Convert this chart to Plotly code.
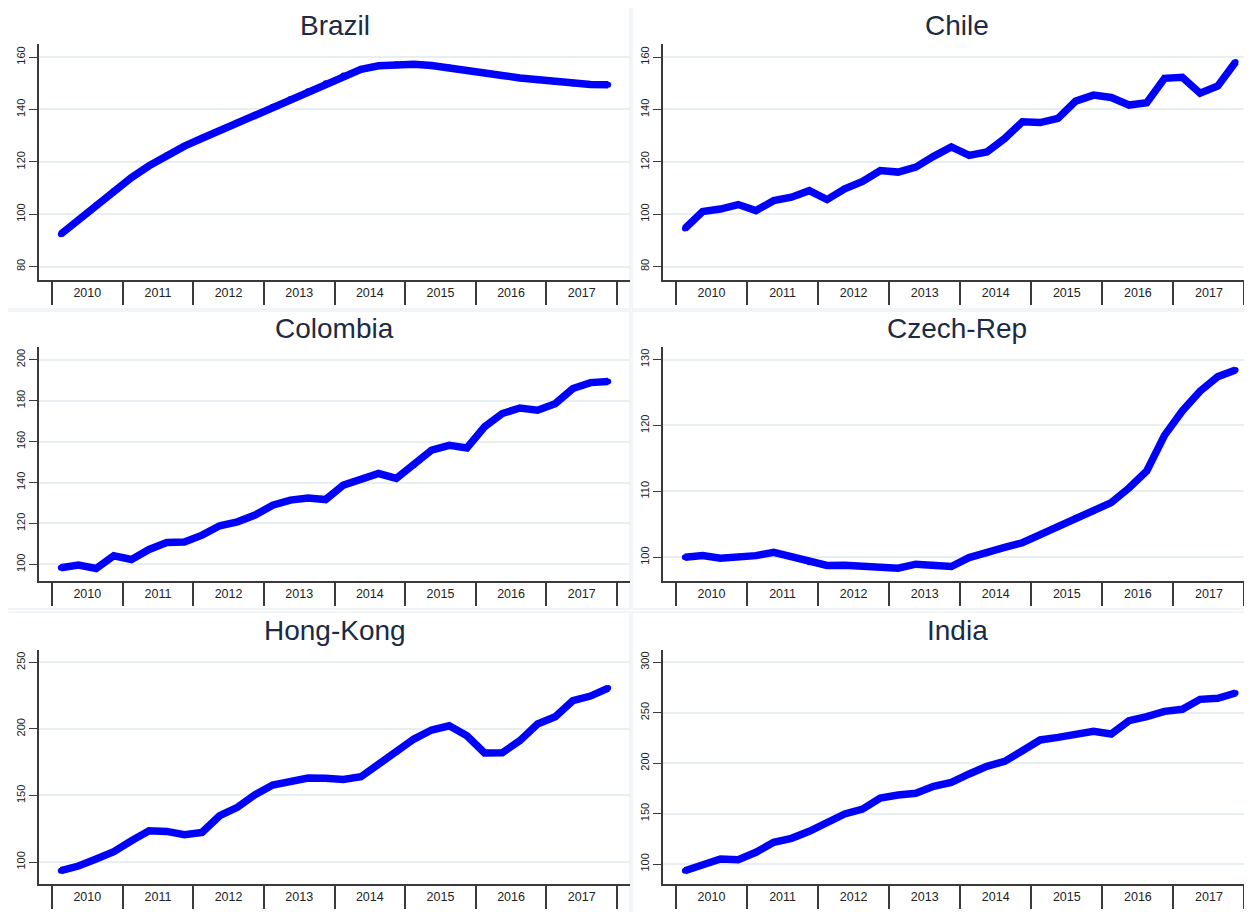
import plotly.graph_objects as go

# ---------------- data ----------------
years = list(range(2010, 2018))
quarters = [1, 2, 3, 4]
year_labels = [str(y) for y in years]

countries = ["Brazil", "Chile", "Colombia", "Czech-Rep", "Hong-Kong", "India"]

brazil = [92.4, 98.0, 103.5, 109.0, 114.0, 118.5, 122.5, 126.0,
          129.0, 132.0, 135.0, 138.0, 141.0, 144.0, 147.0, 150.0,
          153.0, 155.3, 156.7, 157.3, 157.3, 156.8, 156.0, 155.0,
          154.0, 153.0, 152.0, 151.2, 150.5, 149.9, 149.5, 149.4]
chile = [94.6, 101.0, 102.0, 103.7, 101.4, 105.2, 106.5, 109.0,
         105.6, 109.7, 112.5, 116.7, 116.1, 118.0, 122.1, 125.7,
         122.5, 123.8, 128.9, 135.3, 135.0, 136.6, 143.2, 145.5,
         144.6, 141.7, 142.6, 151.9, 152.3, 146.2, 149.0, 158.1]
colombia = [98.4, 99.7, 98.0, 104.2, 102.4, 107.3, 110.7, 110.9,
            114.3, 118.9, 120.8, 124.1, 128.9, 131.4, 132.4, 131.7,
            138.7, 141.5, 144.4, 142.0, 148.5, 155.8, 158.2, 156.9,
            167.2, 173.7, 176.4, 175.3, 178.5, 185.9, 188.8, 189.3]
czech = [100.0, 100.25, 99.85, 100.0, 100.25, 100.75, 100.1, 99.25,
         98.75, 98.8, 98.6, 98.5, 98.35, 98.95, 98.85, 98.6,
         99.95, 100.6, 101.5, 102.2, 103.4, 104.6, 106.0, 107.0,
         108.3, 110.5, 113.1, 118.5, 122.2, 125.2, 127.4, 128.4]
hongkong = [93.5, 97.0, 102.3, 107.8, 116.0, 123.5, 123.0, 120.5,
            122.3, 134.8, 141.1, 150.6, 157.9, 160.4, 163.1, 162.9,
            162.1, 164.1, 173.6, 182.4, 192.4, 199.2, 202.4, 194.9,
            181.9, 182.1, 191.2, 203.7, 209.2, 221.2, 224.7, 230.7]
india = [93.4, 99.0, 105.0, 104.3, 111.6, 121.5, 125.5, 132.4,
         141.3, 149.6, 154.5, 165.5, 168.4, 170.1, 177.0, 181.0,
         189.3, 196.9, 201.8, 211.7, 223.0, 225.6, 228.3, 231.6,
         228.9, 242.1, 246.1, 251.4, 253.4, 263.3, 264.3, 269.6]
series = [brazil, chile, colombia, czech, hongkong, india]

# y tick values per panel
yticks = [
    [80, 100, 120, 140, 160],
    [80, 100, 120, 140, 160],
    [100, 120, 140, 160, 180, 200],
    [100, 110, 120, 130],
    [100, 150, 200, 250],
    [100, 150, 200, 250, 300],
]
yranges = [
    [74.9, 165.0],
    [74.9, 165.0],
    [91.9, 206.2],
    [96.4, 131.9],
    [83.5, 259.3],
    [80.2, 312.2],
]

# quarter positions on a continuous year scale (centre of each quarter)
xq = [y + (q - 0.5) / 4 for y in years for q in quarters]
year_mid = [y + 0.5 for y in years]
year_edges = years + [years[-1] + 1]

# ---------------- layout geometry ----------------
# the page body has an 8px margin, so the figure is placed at (8, 8)
W, H = 1244, 904
col_px = [(31, 622), (655, 1244)]
row_px = [(36, 272), (339, 573), (642, 876)]
title_y_px = [17, 320, 622]
xranges = [[2009.816, 2018.184], [2009.817, 2018.106]]
panel_x = [(-1, 622), (624, 1260)]
panel_y = [(-1, 301), (303, 601), (604, 920)]

FONT = "Liberation Sans, Arial, Helvetica, sans-serif"
AXIS_COL = "#3a3a3a"
GRID_COL = "#e7eff2"
LINE_COL = "#0000ff"

fig = go.Figure()
layout = dict(
    width=W, height=H,
    margin=dict(l=0, r=0, t=0, b=0),
    paper_bgcolor="white", plot_bgcolor="white",
    showlegend=False,
    font=dict(family=FONT, color="#222222"),
    annotations=[], shapes=[],
)

for i, (name, vals) in enumerate(zip(countries, series)):
    r, c = divmod(i, 2)
    ax = "" if i == 0 else str(i + 1)
    x0, x1 = col_px[c]
    y0, y1 = row_px[r]
    fig.add_trace(go.Scatter(
        x=xq, y=vals, mode="lines+markers",
        line=dict(color=LINE_COL, width=7.5),
        marker=dict(color=LINE_COL, size=6, line=dict(width=0)),
        xaxis="x" + ax, yaxis="y" + ax, name=name,
        hoverinfo="x+y",
    ))
    layout["xaxis" + ax] = dict(
        domain=[x0 / W, x1 / W],
        range=xranges[c],
        anchor="y" + ax,
        tickmode="array", tickvals=year_mid, ticktext=year_labels,
        ticks="", showgrid=False, zeroline=False,
        showline=True, linecolor=AXIS_COL, linewidth=1.6,
        tickfont=dict(size=12.5, color="#222222", family=FONT),
        ticklabelstandoff=0,
        minor=dict(tickmode="array", tickvals=year_edges, ticks="outside",
                   ticklen=23, tickwidth=1.6, tickcolor=AXIS_COL, showgrid=False),
        fixedrange=True,
    )
    layout["yaxis" + ax] = dict(
        domain=[1 - y1 / H, 1 - y0 / H],
        range=yranges[i],
        anchor="x" + ax,
        tickmode="array", tickvals=yticks[i],
        ticks="outside", ticklen=8, tickwidth=1.4, tickcolor=AXIS_COL,
        tickangle=-90,
        tickfont=dict(size=11, color="#222222", family=FONT),
        showgrid=True, gridcolor=GRID_COL, gridwidth=1.5,
        zeroline=False,
        showline=True, linecolor=AXIS_COL, linewidth=1.6,
        fixedrange=True,
    )
    layout["annotations"].append(dict(
        text=name, xref="paper", yref="paper",
        x=(x0 + x1) / 2 / W, y=1 - title_y_px[r] / H,
        xanchor="center", yanchor="middle", showarrow=False,
        font=dict(size=28, color="#1c2a44", family=FONT),
    ))
    px0, px1 = panel_x[c]
    py0, py1 = panel_y[r]
    layout["shapes"].append(dict(
        type="rect", xref="paper", yref="paper", layer="below",
        x0=px0 / W, x1=px1 / W, y0=1 - py1 / H, y1=1 - py0 / H,
        line=dict(color="#edf2f5", width=1.5), fillcolor="rgba(0,0,0,0)",
    ))

fig.update_layout(**layout)
fig.write_html("out.html")
